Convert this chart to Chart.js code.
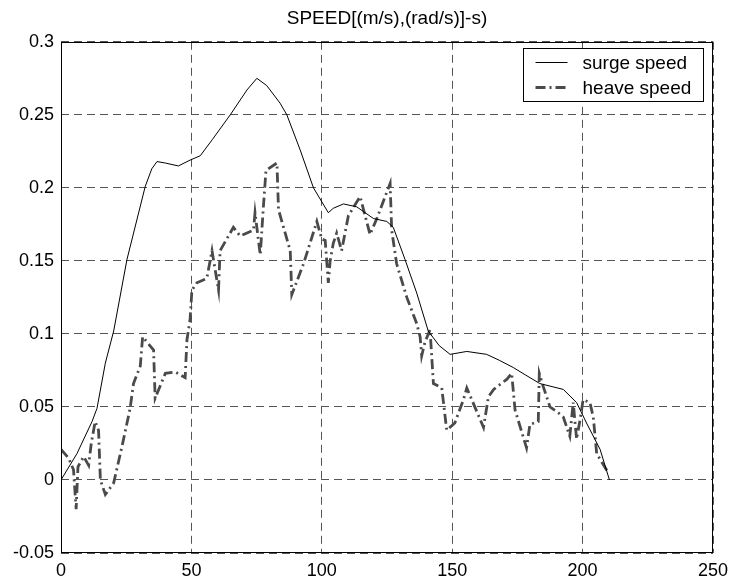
<!DOCTYPE html>
<html><head><meta charset="utf-8">
<script src="https://cdn.jsdelivr.net/npm/chart.js@4"></script>
<style>html,body{margin:0;padding:0;background:#fff}#wrap{width:731px;height:580px}</style>
</head><body><div id="wrap"><canvas id="c" width="731" height="580"></canvas></div>
<script>
const titleText = 'SPEED[(m/s),(rad/s)]-s)';
const seriesNames = ['surge speed', 'heave speed'];
const xTickLabels = ['0', '50', '100', '150', '200', '250'];
const yTickLabels = ['-0.05', '0', '0.05', '0.1', '0.15', '0.2', '0.25', '0.3'];

const surgeT = [0, 6.1, 11.9, 13.8, 17, 20.2, 25.3, 32.3, 34.8, 36.8, 40, 45, 49.5, 53.4, 58, 64.9, 71.3, 75.1, 78.9, 84, 86.6, 91.7, 96.8, 102.5, 104.4, 108.3, 113.4, 116.6, 119.8, 124.9, 127.4, 131.9, 136.4, 140.8, 145, 149.2, 155.6, 163.2, 168, 173.4, 178, 183.6, 192.6, 197.7, 201.5, 206.7, 210.3];
const surgeV = [0, 0.018, 0.040, 0.049, 0.080, 0.102, 0.151, 0.201, 0.213, 0.218, 0.217, 0.215, 0.219, 0.222, 0.233, 0.250, 0.267, 0.275, 0.270, 0.258, 0.250, 0.226, 0.200, 0.183, 0.186, 0.189, 0.187, 0.183, 0.179, 0.177, 0.173, 0.151, 0.128, 0.102, 0.092, 0.086, 0.088, 0.086, 0.082, 0.077, 0.072, 0.066, 0.062, 0.053, 0.039, 0.021, 0.0];

const heaveT = [0, 2.9, 4.8, 5.8, 6.5, 8.7, 10.6, 11.6, 13.1, 14.4, 15.1, 17.0, 20.2, 23.4, 26.5, 27.8, 30.4, 31.3, 35.5, 36.1, 40.0, 43.8, 47.6, 48.3, 49.5, 50.2, 52.1, 55.9, 57.9, 59.1, 60.4, 61.0, 66.1, 68.7, 73.8, 74.4, 76.4, 77.6, 78.6, 82.8, 83.4, 87.9, 88.5, 93.0, 98.1, 100.0, 101.3, 102.5, 103.2, 104.4, 105.7, 107.6, 110.2, 114.7, 118.5, 121.1, 126.2, 126.8, 128.7, 132.6, 136.4, 137.7, 138.3, 139.5, 141.5, 142.8, 146.0, 147.9, 151.0, 154.3, 155.6, 162.0, 163.9, 165.9, 171.0, 172.8, 174.1, 178.5, 179.8, 183.0, 183.4, 184.9, 187.5, 190.7, 192.6, 195.1, 196.4, 197.7, 199.0, 200.2, 202.8, 204.1, 205.4, 209.8];
const heaveV = [0.021, 0.015, 0.007, -0.020, 0.009, 0.016, 0.010, 0.025, 0.040, 0.034, 0.000, -0.010, -0.002, 0.023, 0.049, 0.066, 0.078, 0.098, 0.089, 0.056, 0.073, 0.074, 0.070, 0.096, 0.110, 0.130, 0.135, 0.138, 0.157, 0.144, 0.130, 0.157, 0.173, 0.167, 0.171, 0.183, 0.154, 0.187, 0.212, 0.217, 0.185, 0.157, 0.127, 0.148, 0.177, 0.165, 0.164, 0.135, 0.150, 0.162, 0.169, 0.157, 0.181, 0.194, 0.168, 0.179, 0.203, 0.171, 0.148, 0.125, 0.107, 0.098, 0.085, 0.094, 0.103, 0.066, 0.063, 0.034, 0.039, 0.055, 0.063, 0.036, 0.057, 0.062, 0.069, 0.073, 0.048, 0.022, 0.038, 0.040, 0.073, 0.064, 0.050, 0.046, 0.043, 0.030, 0.053, 0.028, 0.041, 0.055, 0.053, 0.043, 0.018, 0.005];

const FONT = '"Liberation Sans", Arial, Helvetica, sans-serif';

const frameAndLegend = {
  id: 'frameAndLegend',
  afterDraw(chart) {
    const { ctx, chartArea: a } = chart;
    ctx.save();
    ctx.strokeStyle = '#000';
    ctx.lineWidth = 1;
    ctx.setLineDash([]);
    ctx.strokeRect(Math.round(a.left) + 0.5, Math.round(a.top) + 0.5, Math.round(a.right - a.left) - 1, Math.round(a.bottom - a.top) - 1);
    // legend box
    const bx = Math.round(a.right - 190) + 0.5, by = Math.round(a.top + 6) + 0.5, bw = 180, bh = 53;
    ctx.fillStyle = '#fff';
    ctx.fillRect(bx, by, bw, bh);
    ctx.strokeRect(bx, by, bw, bh);
    const rows = [by + 14, by + 39];
    chart.data.datasets.forEach((ds, i) => {
      ctx.beginPath();
      ctx.strokeStyle = ds.borderColor;
      ctx.lineWidth = ds.borderWidth;
      ctx.setLineDash(ds.borderDash || []);
      ctx.moveTo(bx + 12, rows[i]);
      ctx.lineTo(bx + 44, rows[i]);
      ctx.stroke();
      ctx.setLineDash([]);
      ctx.fillStyle = '#000';
      ctx.font = '19px ' + FONT;
      ctx.textBaseline = 'middle';
      ctx.textAlign = 'left';
      ctx.fillText(ds.label, bx + 59, rows[i] + 1);
    });
    ctx.restore();
  }
};

new Chart(document.getElementById('c'), {
  type: 'line',
  data: {
    datasets: [
      {
        label: seriesNames[0],
        data: surgeT.map((t, i) => ({ x: t, y: surgeV[i] })),
        borderColor: '#000',
        borderWidth: 1,
        pointRadius: 0,
        tension: 0,
        fill: false
      },
      {
        label: seriesNames[1],
        data: heaveT.map((t, i) => ({ x: t, y: heaveV[i] })),
        borderColor: '#4a4a4a',
        borderWidth: 2.8,
        borderDash: [10, 4, 2, 4],
        pointRadius: 0,
        tension: 0,
        fill: false
      }
    ]
  },
  options: {
    responsive: false,
    animation: false,
    devicePixelRatio: 1,
    layout: { padding: { left: 0, right: 18, top: 0, bottom: 0 } },
    plugins: {
      legend: { display: false },
      tooltip: { enabled: false },
      title: {
        display: true,
        fullSize: false,
        text: titleText,
        color: '#000',
        font: { family: FONT, size: 19, weight: 'normal' },
        padding: { top: 7, bottom: 12 }
      }
    },
    scales: {
      x: {
        type: 'linear',
        min: 0, max: 250,
        afterFit(s) { s.height = 27; s.paddingLeft = 0; s.paddingRight = 0; },
        ticks: {
          stepSize: 50,
          color: '#000',
          padding: 7,
          maxRotation: 0,
          font: { family: FONT, size: 18 },
          callback: (v) => xTickLabels[Math.round(v / 50)]
        },
        grid: { color: '#555', lineWidth: 1, drawTicks: false },
        border: { display: false, dash: [8, 5] }
      },
      y: {
        type: 'linear',
        min: -0.05, max: 0.3,
        afterFit(s) { s.width = 61; s.paddingTop = 0; s.paddingBottom = 0; },
        ticks: {
          stepSize: 0.05,
          color: '#000',
          padding: 7,
          font: { family: FONT, size: 18 },
          callback: (v) => yTickLabels[Math.round((v + 0.05) / 0.05)]
        },
        grid: { color: '#555', lineWidth: 1, drawTicks: false },
        border: { display: false, dash: [8, 5] }
      }
    }
  },
  plugins: [frameAndLegend]
});
</script>
</body></html>
